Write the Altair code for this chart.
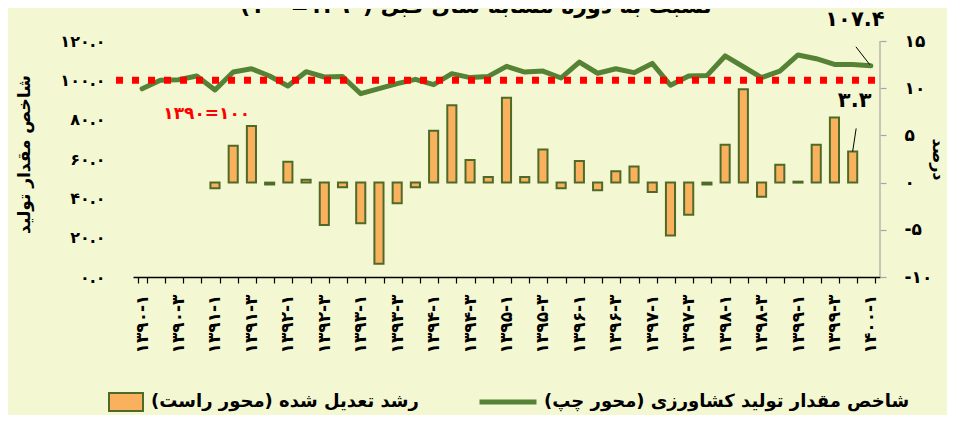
import altair as alt
import pandas as pd

FONT = "DejaVu Sans"
BG = "#F4F8D2"
GREEN = "#558235"
ORANGE = "#F9B15E"
BAR_EDGE = "#4E6A28"
RED = "#FF0000"
RLM = "\u200f"

FA = str.maketrans("0123456789", "۰۱۲۳۴۵۶۷۸۹")


def fa(s):
    return str(s).translate(FA)


# ---------------- data ----------------
categories = [fa(f"{y}-{q}") for y in range(1390, 1400) for q in (1, 2, 3, 4)] + [fa("1400-1")]
labeled_categories = categories[::2]

index_values = [95.7, 100.0, 100.3, 102.2, 95.1, 104.2, 105.9, 102.2, 97.1, 104.4,
                101.7, 101.9, 93.2, 95.8, 98.3, 100.5, 97.8, 103.4, 101.4, 102.0,
                107.1, 104.2, 104.7, 101.2, 109.3, 103.6, 105.9, 103.9, 108.6, 97.5,
                102.2, 102.4, 112.4, 106.9, 101.4, 104.7, 112.9, 111.0, 108.1, 108.0,
                107.4]

growth_categories = categories[4:40]
growth_values = [-0.6, 3.9, 6.0, -0.2, 2.2, 0.3, -4.5, -0.5, -4.3, -8.6,
                 -2.2, -0.5, 5.5, 8.2, 2.4, 0.6, 9.0, 0.6, 3.5, -0.6,
                 2.3, -0.8, 1.2, 1.7, -1.0, -5.6, -3.4, -0.2, 4.0, 9.9,
                 -1.5, 1.9, 0.1, 4.0, 6.9, 3.3]

left_ticks = [0, 20, 40, 60, 80, 100, 120]
left_tick_labels = ["۰.۰", "۲۰.۰", "۴۰.۰", "۶۰.۰", "۸۰.۰", "۱۰۰.۰", "۱۲۰.۰"]
right_ticks = [-10, -5, 0, 5, 10, 15]
right_tick_labels = ["-۱۰", "-۵", "۰", "۵", "۱۰", "۱۵"]

base_value = 100
base_text = "۱۳۹۰=۱۰۰"
line_label = "شاخص مقدار تولید کشاورزی (محور چپ)" + RLM
bar_label = "رشد تعدیل شده (محور راست)" + RLM
left_title = "شاخص مقدار تولید"
right_title = "درصد"
subtitle = RLM + "نسبت به دوره مشابه سال قبل (۱۳۹۰=۱۰۰)" + RLM

# ---------------- layout ----------------
PLOT_W = 747
PLOT_H = 268
TOP_GAP = 32  # px between plot top and the highest tick


def label_expr(vals, labels):
    expr = "''"
    for v, l in reversed(list(zip(vals, labels))):
        expr = f"datum.value == {v} ? '{l}' : {expr}"
    return expr


shown = ",".join(f"'{c}'" for c in labeled_categories)

x_scale = alt.Scale(domain=categories, paddingInner=0.5, paddingOuter=0.25)
x_axis = alt.Axis(
    title=None, orient="bottom", tickBand="extent", ticks=True, tickSize=6,
    tickColor="black", tickWidth=1.2, domainColor="black", domainWidth=1.5,
    labelAngle=270, labelAlign="right", labelBaseline="middle", labelPadding=11,
    labelFont=FONT, labelFontSize=17, labelFontWeight="bold", labelColor="black",
    labelOverlap=False, labelFlush=False, labelLimit=200, grid=False,
    labelExpr=f"indexof([{shown}], datum.value) >= 0 ? datum.value : ''",
)

left_scale = alt.Scale(domain=[0, 120 * PLOT_H / (PLOT_H - TOP_GAP)], nice=False)
right_scale = alt.Scale(domain=[-10, -10 + 25 * PLOT_H / (PLOT_H - TOP_GAP)], nice=False)

left_axis = alt.Axis(
    orient="left", values=left_ticks, labelExpr=label_expr(left_ticks, left_tick_labels),
    title=left_title, titleX=-109, titleY=145, titleAngle=270, titleAlign="center",
    titleBaseline="middle", titleFont=FONT, titleFontSize=17, titleFontWeight="bold",
    titleColor="black", labelFont=FONT, labelFontSize=16, labelFontWeight="bold",
    labelColor="black", labelPadding=28, ticks=False, domain=False, grid=False,
)
right_axis = alt.Axis(
    orient="right", values=right_ticks, labelExpr=label_expr(right_ticks, right_tick_labels),
    title=right_title, titleX=57, titleY=150, titleAngle=90, titleAlign="center",
    titleBaseline="middle", titleFont=FONT, titleFontSize=16, titleFontWeight="bold",
    titleColor="black", labelFont=FONT, labelFontSize=17, labelFontWeight="bold",
    labelColor="black", labelPadding=18, ticks=True, tickSize=6, tickColor="#A6A6A6",
    tickWidth=1.2, domain=False, grid=False,
)


def X():
    return alt.X("cat:N", scale=x_scale, axis=x_axis)


def YL(field="v"):
    return alt.Y(f"{field}:Q", scale=left_scale, axis=left_axis)


def YR(field="v"):
    return alt.Y(f"{field}:Q", scale=right_scale, axis=right_axis)


line_df = pd.DataFrame({"cat": categories, "v": index_values, "s": line_label})
bar_df = pd.DataFrame({"cat": growth_categories, "v": growth_values, "s": bar_label})
last_line_df = pd.DataFrame({"cat": [categories[-1]], "v": [index_values[-1]],
                             "t": [fa(f"{index_values[-1]:.1f}")]})
last_bar_df = pd.DataFrame({"cat": [growth_categories[-1]], "v": [growth_values[-1]],
                            "t": [fa(f"{growth_values[-1]:.1f}")]})
base_df = pd.DataFrame({"cat": [categories[3]], "v": [base_value], "t": [base_text]})
axis_df = pd.DataFrame({"lo": [min(right_ticks)], "hi": [max(right_ticks)]})
title_df = pd.DataFrame({"t": [subtitle]})

# ---------------- right-scale layer (bars) ----------------
bars = alt.Chart(bar_df).mark_bar(stroke=BAR_EDGE, strokeWidth=2).encode(
    x=X(), y=YR(), y2=alt.datum(0),
    fill=alt.Fill("s:N", scale=alt.Scale(domain=[bar_label], range=[ORANGE]),
                  legend=alt.Legend(
                      orient="none", legendX=-16, legendY=384, title=None,
                      symbolType="M-3.4,-1.8H3.4V1.8H-3.4Z", symbolSize=100,
                      symbolStrokeColor=BAR_EDGE, symbolStrokeWidth=2,
                      labelOffset=16, labelFont=FONT, labelFontSize=18,
                      labelFontWeight="bold", labelColor="black", labelLimit=700,
                      padding=0)),
)
right_domain = alt.Chart(axis_df).mark_rule(color="#A6A6A6", strokeWidth=1.2).encode(
    x=alt.value(PLOT_W), y=YR("lo"), y2="hi:Q")
bar_note = alt.Chart(last_bar_df).mark_text(
    font=FONT, fontSize=21, fontWeight="bold", color="black", dx=2, dy=-50
).encode(x=X(), y=YR(), text="t:N")
bar_leader = alt.Chart(last_bar_df).mark_rule(
    color="black", strokeWidth=1, xOffset=0, yOffset=0, x2Offset=3.5, y2Offset=-23
).encode(x=X(), y=YR(), x2="cat:N", y2="v:Q")

right_layer = alt.layer(bars, right_domain, bar_note, bar_leader)

# ---------------- left-scale layer (index line) ----------------
line = alt.Chart(line_df).mark_line(strokeWidth=5, strokeJoin="round", strokeCap="round").encode(
    x=X(), y=YL(),
    stroke=alt.Stroke("s:N", scale=alt.Scale(domain=[line_label], range=[GREEN]),
                      legend=alt.Legend(
                          orient="none", legendX=366, legendY=384, title=None,
                          symbolType="M-5.7,0H5.7", symbolSize=100, symbolStrokeWidth=5,
                          labelOffset=27, labelFont=FONT, labelFontSize=18,
                          labelFontWeight="bold", labelColor="black", labelLimit=700,
                          padding=0)),
)
base_rule = alt.Chart(base_df).mark_rule(
    color=RED, strokeWidth=7, strokeDash=[7, 9], strokeCap="butt"
).encode(y=YL(), x=alt.value(-17), x2=alt.value(PLOT_W - 4))
base_note = alt.Chart(base_df).mark_text(
    font=FONT, fontSize=17, fontWeight="bold", color=RED, dx=10, dy=34
).encode(x=X(), y=YL(), text="t:N")
line_note = alt.Chart(last_line_df).mark_text(
    font=FONT, fontSize=21, fontWeight="bold", color="black", dx=-16, dy=-46
).encode(x=X(), y=YL(), text="t:N")
line_leader = alt.Chart(last_line_df).mark_rule(
    color="black", strokeWidth=1, xOffset=-1, yOffset=-1, x2Offset=-15, y2Offset=-19
).encode(x=X(), y=YL(), x2="cat:N", y2="v:Q")
title_text = alt.Chart(title_df).mark_text(
    clip=True, font=FONT, fontSize=22, fontWeight="bold", color="black",
    align="center", baseline="alphabetic"
).encode(x=alt.value(343), y=alt.value(4), text="t:N")

left_layer = alt.layer(line, base_rule, base_note, line_note, line_leader, title_text)

chart = (
    alt.layer(right_layer, left_layer)
    .resolve_scale(y="independent")
    .properties(width=PLOT_W, height=PLOT_H, background=BG,
                padding={"left": 7, "top": 0, "right": 2, "bottom": 0})
    .configure_view(strokeWidth=0)
)

chart.save("out.html", embed_options={"renderer": "svg", "actions": False})
